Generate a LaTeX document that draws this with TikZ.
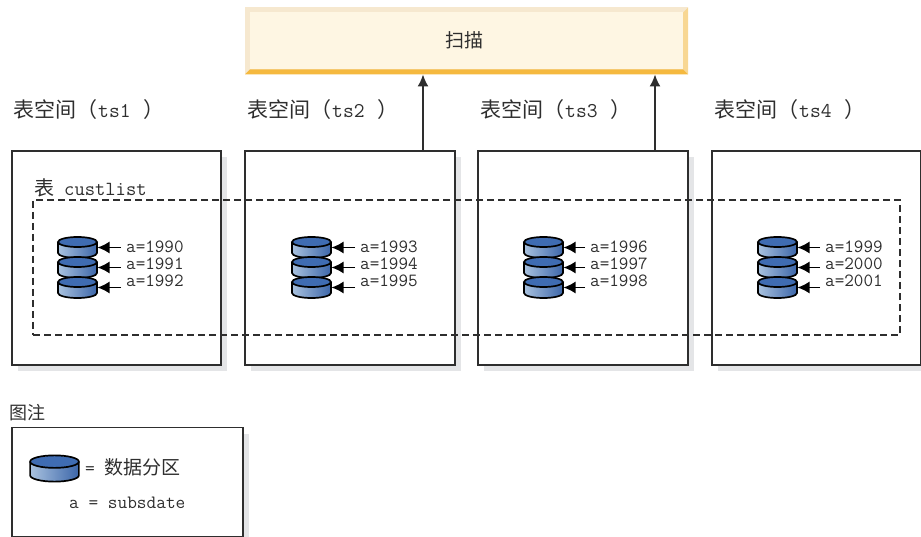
\documentclass[tikz,border=0pt]{standalone}
\usepackage{fontspec}
\usetikzlibrary{arrows.meta,shadows}
\newfontfamily\cjk{Noto Sans CJK SC}
\newcommand{\zh}[1]{{\cjk #1}}
\definecolor{inkgray}{HTML}{2E2E2E}
\definecolor{shadowgray}{HTML}{E4E5E7}
\definecolor{scanfill}{HTML}{FEF6E3}
\definecolor{scanlight}{HTML}{F6E8CF}
\definecolor{scanright}{HTML}{F8D793}
\definecolor{scanbottom}{HTML}{F5B93F}
\definecolor{disktop}{HTML}{3F6CB2}
\definecolor{diskleft}{HTML}{A9C2DF}
\definecolor{diskright}{HTML}{3C66A9}
\tikzset{
    tsbox/.style={draw=inkgray, line width=1.5pt, fill=white, anchor=north west, outer sep=0pt,
        minimum height=214pt, drop shadow={shadow xshift=6pt, shadow yshift=-6pt, fill=shadowgray, opacity=1}},
    tablebox/.style={draw=inkgray, line width=1.5pt, dash pattern=on 7pt off 4pt, anchor=north west,
        minimum width=867pt, minimum height=135pt, outer sep=0pt},
    tstitle/.style={anchor=west, inner sep=0pt, text=inkgray, font=\fontsize{21}{21}\selectfont},
    parttext/.style={anchor=west, inner sep=5pt, text=inkgray, font=\ttfamily\fontsize{18.6}{18.6}\selectfont},
    plaintext/.style={anchor=west, inner sep=0pt, text=inkgray, font=\ttfamily\fontsize{20}{20}\selectfont},
    partarrow/.style={draw=black, line width=1.5pt, -{Latex[length=12pt,width=12pt]}},
    scanarrow/.style={draw=inkgray, line width=1.5pt, -{Latex[length=12pt,width=11pt]}},
    disk/.pic={
        \path [left color=diskleft, right color=diskright] (-19.5,-5.5) -- (-19.5,5.5)
            arc [x radius=19.5, y radius=5, start angle=180, end angle=0] -- (19.5,-5.5) -- cycle;
        \draw [white, line width=1.2pt] (-17,-4.5) arc [x radius=17, y radius=3.6, start angle=180, end angle=0];
        \fill [disktop] (0,-5.5) ellipse [x radius=19, y radius=4.6];
        \draw [black, line width=1.7pt] (-19.5,-5.5) -- (-19.5,5.5)
            arc [x radius=19.5, y radius=5, start angle=180, end angle=0] -- (19.5,-5.5);
        \draw [black, line width=1.7pt] (0,-5.5) ellipse [x radius=19.5, y radius=5];
        \coordinate (-east) at (20,0);
    }
}

\begin{document}
\begin{tikzpicture}[x=1pt, y=-1pt]
                \useasboundingbox (0,0) rectangle (921,537);
%
                \node [anchor=north west, minimum width=443pt, minimum height=67pt, inner sep=0pt, outer sep=0pt, fill=scanlight] (scan) at (245,7.5) {};
                \fill [scanright] (scan.north east) -- (scan.south east) -- ++(-5,-5) -- ++(0,-57) -- cycle;
                \fill [scanbottom] (scan.south west) -- (scan.south east) -- ++(-5,-5) -- ++(-433,0) -- cycle;
                \node [minimum width=433pt, minimum height=57pt, inner sep=0pt, fill=scanfill, text=inkgray, font=\cjk\fontsize{19}{19}\selectfont] (scantext) at (466.5,40.5) {\hspace{-4pt}扫描};
%
                \node [tstitle] (title1) at (13,110) {\zh{表空间（}\hspace{1pt}{\ttfamily ts1}\hspace{13pt}\zh{）}};
                \node [tstitle] (title2) at (247,110) {\zh{表空间（}\hspace{1pt}{\ttfamily ts2}\hspace{13pt}\zh{）}};
                \node [tstitle] (title3) at (480,110) {\zh{表空间（}\hspace{1pt}{\ttfamily ts3}\hspace{13pt}\zh{）}};
                \node [tstitle] (title4) at (714,110) {\zh{表空间（}\hspace{1pt}{\ttfamily ts4}\hspace{13pt}\zh{）}};
%
                \node [tsbox, minimum width=209pt] (ts1) at (12,151) {};
                \node [tsbox, minimum width=210pt] (ts2) at (245,151) {};
                \node [tsbox, minimum width=210pt] (ts3) at (478,151) {};
                \node [tsbox, minimum width=208.5pt] (ts4) at (712,151) {};
%
                \coordinate (scan2) at (423,151);
                \coordinate (scan3) at (655,151);
                \draw [scanarrow] (scan2) -- (scan2 |- scan.south);
                \draw [scanarrow] (scan3) -- (scan3 |- scan.south);
%
                \node [plaintext] (tablename) at (34,188) {\zh{表}\hspace{0.5em}custlist};
                \node [tablebox] (custlist) at (33,200) {};
%
                \pic (d1990) at (77.5,247.5) {disk};
                \pic (d1991) at (77.5,267.5) {disk};
                \pic (d1992) at (77.5,287.5) {disk};
                \node [parttext] (a1990) at (121,247) {a=1990};
                \node [parttext] (a1991) at (121,264) {a=1991};
                \node [parttext] (a1992) at (121,281) {a=1992};
                \draw [partarrow] (a1990.west |- d1990-east) -- (d1990-east);
                \draw [partarrow] (a1991.west |- d1991-east) -- (d1991-east);
                \draw [partarrow] (a1992.west |- d1992-east) -- (d1992-east);
%
                \pic (d1993) at (311.5,247.5) {disk};
                \pic (d1994) at (311.5,267.5) {disk};
                \pic (d1995) at (311.5,287.5) {disk};
                \node [parttext] (a1993) at (355,247) {a=1993};
                \node [parttext] (a1994) at (355,264) {a=1994};
                \node [parttext] (a1995) at (355,281) {a=1995};
                \draw [partarrow] (a1993.west |- d1993-east) -- (d1993-east);
                \draw [partarrow] (a1994.west |- d1994-east) -- (d1994-east);
                \draw [partarrow] (a1995.west |- d1995-east) -- (d1995-east);
%
                \pic (d1996) at (543.5,247.5) {disk};
                \pic (d1997) at (543.5,267.5) {disk};
                \pic (d1998) at (543.5,287.5) {disk};
                \node [parttext] (a1996) at (585,247) {a=1996};
                \node [parttext] (a1997) at (585,264) {a=1997};
                \node [parttext] (a1998) at (585,281) {a=1998};
                \draw [partarrow] (a1996.west |- d1996-east) -- (d1996-east);
                \draw [partarrow] (a1997.west |- d1997-east) -- (d1997-east);
                \draw [partarrow] (a1998.west |- d1998-east) -- (d1998-east);
%
                \pic (d1999) at (777.5,247.5) {disk};
                \pic (d2000) at (777.5,267.5) {disk};
                \pic (d2001) at (777.5,287.5) {disk};
                \node [parttext] (a1999) at (820,247) {a=1999};
                \node [parttext] (a2000) at (820,264) {a=2000};
                \node [parttext] (a2001) at (820,281) {a=2001};
                \draw [partarrow] (a1999.west |- d1999-east) -- (d1999-east);
                \draw [partarrow] (a2000.west |- d2000-east) -- (d2000-east);
                \draw [partarrow] (a2001.west |- d2001-east) -- (d2001-east);
%
                \node [anchor=west, inner sep=0pt, text=inkgray, font=\cjk\fontsize{18}{18}\selectfont] (legendtitle) at (9,413) {图注};
                \node [tsbox, minimum width=231pt, minimum height=109pt] (legend) at (12,427.5) {};
                \pic [scale=1.25] (dlegend) at (54.5,468.5) {disk};
                \node [plaintext, font=\ttfamily\fontsize{19}{19}\selectfont] (legenddisk) at (85,467) {=\hspace{0.5em}\zh{数据分区}};
                \node [plaintext, font=\ttfamily\fontsize{18.8}{18.8}\selectfont] (legenda) at (69,503) {a = subsdate};
            \end{tikzpicture}
\end{document}
